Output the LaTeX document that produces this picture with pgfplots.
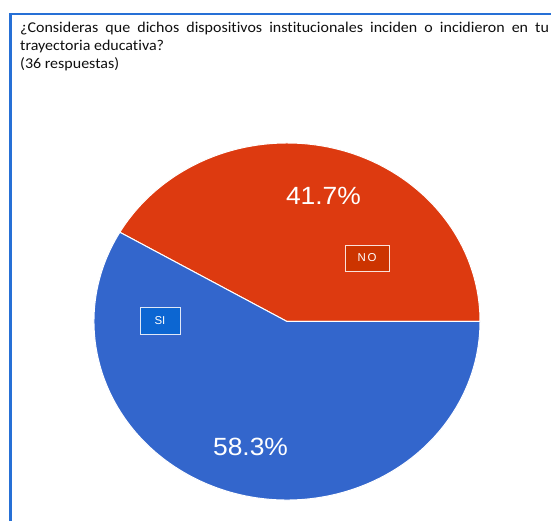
\documentclass[border=0pt]{standalone}
\usepackage{fontspec}
\setmainfont{Carlito}[FakeStretch=1.07, Ligatures={NoCommon}]
\newfontfamily\arial{Liberation Sans}
\newfontfamily\arialw{Liberation Sans}[FakeStretch=1.06]
\newfontfamily\arialsp[LetterSpace=15]{Liberation Sans}
\usepackage{pgfplots}
\pgfplotsset{compat=1.18}
\usepackage{pgfplotstable}

\definecolor{frameblue}{RGB}{38,112,214}
\definecolor{pieno}{RGB}{221,58,16}
\definecolor{piesi}{RGB}{51,102,204}
\definecolor{boxno}{RGB}{204,52,0}
\definecolor{boxsi}{RGB}{12,102,210}
\definecolor{titletext}{RGB}{15,15,15}

% answers to the question (36 responses)
\pgfplotstableread{
answer count
NO 15
SI 21
}\answers

\pgfplotstablegetelem{0}{count}\of\answers \let\nno\pgfplotsretval
\pgfplotstablegetelem{1}{count}\of\answers \let\nsi\pgfplotsretval
\pgfmathsetmacro\ntot{\nno+\nsi}
\pgfmathsetmacro\ano{360*\nno/\ntot}
\pgfmathsetmacro\pno{100*\nno/\ntot}
\pgfmathsetmacro\psi{100*\nsi/\ntot}
\pgfmathsetmacro\mno{\ano/2}
\pgfmathsetmacro\msi{(\ano+360)/2}

\begin{document}
\begin{tikzpicture}
\begin{scope}[x=1bp,y=1bp]
\useasboundingbox (0,0) rectangle (551,519);
% frame
\draw[frameblue, line width=2.5bp] (10.5,-2) -- (10.5,505) -- (553,505);

% title
\node[anchor=base west, inner sep=0pt, text=titletext, font=\fontsize{15}{17}\selectfont]
  at (20,486) {\makebox[529bp][s]{¿Consideras que dichos dispositivos institucionales inciden o incidieron en tu}};
\node[anchor=base west, inner sep=0pt, text=titletext, font=\fontsize{15}{17}\selectfont]
  at (20,468) {trayectoria educativa?};
\node[anchor=base west, inner sep=0pt, text=titletext, font=\fontsize{15}{17}\selectfont]
  at (20,450) {(36 respuestas)};
\end{scope}

\begin{axis}[
  at={(287bp,197.5bp)}, anchor=center,
  scale only axis, width=386bp, height=357bp,
  xmin=-1, xmax=1, ymin=-1, ymax=1,
  axis lines=none, clip=false,
  /pgf/number format/assume math mode=true
]
\path[fill=pieno, draw=white, line width=1bp]
  (axis cs:0,0) -- (axis cs:1,0)
  arc[start angle=0, end angle=\ano, x radius=193bp, y radius=178.5bp] -- cycle;
\path[fill=piesi, draw=white, line width=1bp]
  (axis cs:0,0) -- (axis cs:{cos(\ano)},{sin(\ano)})
  arc[start angle=\ano, end angle=360, x radius=193bp, y radius=178.5bp] -- cycle;

\node[text=white, font=\arialw\fontsize{25}{27}\selectfont]
  at (axis cs:{0.73*cos(\mno)},{0.73*sin(\mno)}) {\pgfmathprintnumber[fixed,fixed zerofill,precision=1]{\pno}\%};
\node[text=white, font=\arialw\fontsize{25}{27}\selectfont]
  at (axis cs:{0.73*cos(\msi)},{0.73*sin(\msi)}) {\pgfmathprintnumber[fixed,fixed zerofill,precision=1]{\psi}\%};

\node[fill=boxno, draw=white!85!pieno, line width=0.8bp, text=white,
      minimum width=44bp, minimum height=26bp, inner sep=0pt, font=\arialsp\fontsize{11.5}{12}\selectfont]
  at (axis cs:0.415,0.356) {NO};
\node[fill=boxsi, draw=white!85!piesi, line width=0.8bp, text=white,
      minimum width=40bp, minimum height=27bp, inner sep=0pt, font=\arial\fontsize{11.5}{12}\selectfont]
  at (axis cs:-0.658,0.006) {SI};
\end{axis}
\end{tikzpicture}
\end{document}
